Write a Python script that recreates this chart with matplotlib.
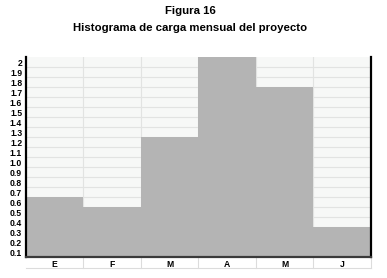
import matplotlib
import matplotlib.pyplot as plt
import numpy as np

matplotlib.use("Agg")

# --- Daten ---
meses = ["E", "F", "M", "A", "M", "J"]
carga = [0.6, 0.5, 1.2, 2.0, 1.7, 0.3]
ytick_labels = ["0.1", "0.2", "0.3", "0.4", "0.5", "0.6", "0.7", "0.8", "0.9", "1.0",
                "1.1", "1.2", "1.3", "1.4", "1.5", "1.6", "1.7", "1.8", "1.9", "2"]
titulo = "Figura 16"
subtitulo = "Histograma de carga mensual del proyecto"

plt.rcParams["font.family"] = ["Liberation Sans", "DejaVu Sans"]

fig = plt.figure(figsize=(3.87, 2.78), dpi=100)
fig.patch.set_facecolor("white")
ax = fig.add_axes([0.0664, 0.0745, 0.8923, 0.7195])
ax.set_facecolor("#f7f8f7")

x = np.arange(len(meses))
ax.bar(x, carga, width=1.0, color="#b4b4b4", edgecolor="none", zorder=2)

ax.set_xlim(-0.5, len(meses) - 0.5)
ax.set_ylim(0, 2.0)

# Gitterlinien an den Bandgrenzen, Beschriftung mittig im Band
ax.set_yticks(np.arange(1, 20) / 10, minor=True)
ax.set_yticks((np.arange(1, 21) - 0.5) / 10, ytick_labels)
ax.set_xticks(np.arange(len(meses) - 1) + 0.5, minor=True)
ax.set_xticks(x, meses)
ax.grid(which="minor", color="#e2e3e2", linewidth=0.8, zorder=0)
ax.tick_params(which="both", length=0)
ax.tick_params(axis="y", pad=2.5, labelsize=6.2)
ax.tick_params(axis="x", pad=1.8, labelsize=6.2)
for lab in ax.get_xticklabels() + ax.get_yticklabels():
    lab.set_fontweight("bold")

ax.spines["top"].set_visible(False)
ax.spines["left"].set_color("black")
ax.spines["left"].set_linewidth(1.6)
ax.spines["right"].set_color("black")
ax.spines["right"].set_linewidth(1.6)
ax.spines["bottom"].set_color("#3a3a3a")
ax.spines["bottom"].set_linewidth(1.6)

# Tabellenzeile unter der x-Achse
for b in list(np.arange(len(meses) - 1) + 0.5) + [len(meses) - 0.5]:
    ax.plot([b, b], [0, -0.108], color="#dcdcdc", linewidth=0.8, clip_on=False, zorder=1)
ax.plot([-0.5, len(meses) - 0.5], [-0.108, -0.108], color="#dcdcdc", linewidth=0.8,
        clip_on=False, zorder=1)

fig.text(0.491, 0.96, titulo, ha="center", va="center", fontsize=8.2, fontweight="bold")
fig.text(0.491, 0.898, subtitulo, ha="center", va="center", fontsize=8.2, fontweight="bold")

fig.savefig("out.png", dpi=100, facecolor="white")
